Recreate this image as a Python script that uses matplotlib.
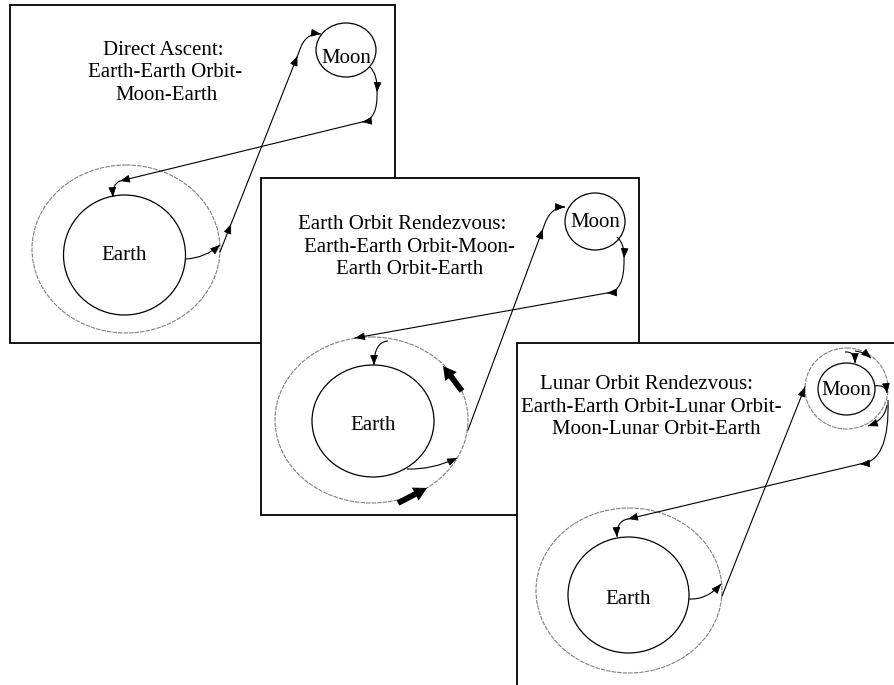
import matplotlib.pyplot as plt
import numpy as np
from matplotlib.patches import Ellipse, Rectangle, PathPatch
from matplotlib.path import Path

# text of the three mission-mode panels
titles = [
    ["Direct Ascent:", "Earth-Earth Orbit-", "Moon-Earth"],
    ["Earth Orbit Rendezvous:", "Earth-Earth Orbit-Moon-", "Earth Orbit-Earth"],
    ["Lunar Orbit Rendezvous:", "Earth-Earth Orbit-Lunar Orbit-", "Moon-Lunar Orbit-Earth"],
]
body_names = ["Earth", "Moon"]

SERIF = ["Liberation Serif", "DejaVu Serif"]
FS = 15

fig = plt.figure(figsize=(8.94, 6.85), dpi=100)
ax = fig.add_axes([0, 0, 1, 1])
ax.set_xlim(0, 894)
ax.set_ylim(685, 0)
ax.axis("off")


def head(p, d, z):
    d = np.array(d, float)
    d = d / np.hypot(*d)
    p = np.array(p, float)
    ax.annotate("", xy=p, xytext=p - 2 * d,
                arrowprops=dict(arrowstyle="-|>,head_length=0.5,head_width=0.2",
                                mutation_scale=12, lw=0.6, color="k",
                                shrinkA=0, shrinkB=0), zorder=z)


def big_arrow(tail, tip, z):
    ax.annotate("", xy=tip, xytext=tail,
                arrowprops=dict(arrowstyle="simple,head_length=0.5,head_width=0.55,tail_width=0.22",
                                mutation_scale=19, lw=0, color="k",
                                shrinkA=0, shrinkB=0), zorder=z)


def curve(p0, c, p1, z, arrow=True):
    pth = Path([p0, c, p1], [Path.MOVETO, Path.CURVE3, Path.CURVE3])
    ax.add_patch(PathPatch(pth, fill=False, ec="k", lw=0.8, zorder=z))
    if arrow:
        head(p1, np.subtract(p1, c), z)


def seg(p0, p1, z, at=()):
    ax.plot([p0[0], p1[0]], [p0[1], p1[1]], color="k", lw=0.8, zorder=z)
    d = np.subtract(p1, p0)
    for t in at:
        head(np.add(p0, t * d), d, z)


def body(c, rx, ry, name, base, z):
    ax.add_patch(Ellipse(c, 2 * rx, 2 * ry, fill=False, ec="k", lw=0.9, zorder=z))
    ax.text(c[0], base, name, ha="center", va="baseline", fontsize=FS,
            family=SERIF, zorder=z)


def orbit(c, rx, ry, z):
    ax.add_patch(Ellipse(c, 2 * rx, 2 * ry, fill=False, ec="0.5", lw=0.8,
                         ls=(0, (4, 1)), zorder=z))


def frame(x0, y0, x1, y1, z):
    ax.add_patch(Rectangle((x0, y0), x1 - x0, y1 - y0, fc="white", ec="k",
                           lw=1.3, zorder=z))


def title(lines, centers, bases, z):
    for s, cx, by in zip(lines, centers, bases):
        ax.text(cx, by, s, ha="center", va="baseline", fontsize=FS,
                family=SERIF, zorder=z)


# ---- panel 1: direct ascent
z = 10
frame(10, 5, 395, 343, z)
title(titles[0], [163, 165, 167], [55, 77, 100], z + 1)
orbit((126, 249), 94, 84, z + 1)
body((124.5, 255), 61, 60, body_names[0], 260, z + 2)
body((346, 50), 30, 27, body_names[1], 63, z + 2)
curve((186, 259), (205, 258), (220, 245), z + 3)
seg((220, 252), (299, 52), z + 3, at=(0.14, 0.98))
curve((299, 52), (305, 32), (321, 34), z + 3)
curve((370, 67), (378, 75), (377, 92), z + 3)
curve((377, 92), (378, 120), (362, 122), z + 3)
seg((362, 122), (120, 181), z + 3, at=(1.0,))
curve((120, 181), (112, 184), (113, 197), z + 3)

# ---- panel 2: earth orbit rendezvous
z = 20
frame(261, 178, 639, 515, z)
title(titles[1], [402, 409, 410], [229, 252, 274], z + 1)
orbit((371.5, 420), 96.5, 83, z + 1)
body((373, 421), 61, 56, body_names[0], 430, z + 2)
body((595, 221.5), 30, 28.5, body_names[1], 227, z + 2)
curve((407, 469), (432, 470), (457, 458), z + 3)
seg((468, 430), (544, 226), z + 3, at=(0.985,))
curve((544, 226), (550, 207), (565, 207), z + 3)
curve((617, 237), (625, 244), (624, 258), z + 3)
curve((624, 258), (625, 292), (607, 293), z + 3)
seg((607, 293), (355, 338), z + 3, at=(1.0,))
curve((388, 341), (374, 342), (374, 365), z + 3)
big_arrow((462, 391), (443, 366), z + 4)
big_arrow((398, 503), (427, 488), z + 4)

# ---- panel 3: lunar orbit rendezvous
z = 30
frame(517, 343, 910, 700, z)
title(titles[2], [647, 651, 656], [389, 412, 434], z + 1)
orbit((629, 590.5), 93, 82.5, z + 1)
orbit((846.5, 388.5), 41.5, 40.5, z + 1)
body((628.5, 595), 60.5, 58, body_names[0], 604, z + 2)
body((846.5, 389), 28.5, 26, body_names[1], 395, z + 2)
curve((689, 599), (707, 600), (721, 584), z + 3)
seg((722, 596), (805, 387), z + 3, at=(1.0,))
curve((845, 352), (855, 351), (855, 363), z + 3)
curve((855, 351), (864, 352), (871, 358), z + 3)
curve((874, 386), (886, 384), (887, 393), z + 3)
curve((887, 405), (885, 420), (868, 426), z + 3)
curve((888, 400), (890, 462), (860, 464), z + 3)
seg((860, 464), (628, 519), z + 3, at=(1.0,))
curve((628, 519), (616, 521), (617, 537), z + 3)

fig.savefig("out.png", dpi=100)
